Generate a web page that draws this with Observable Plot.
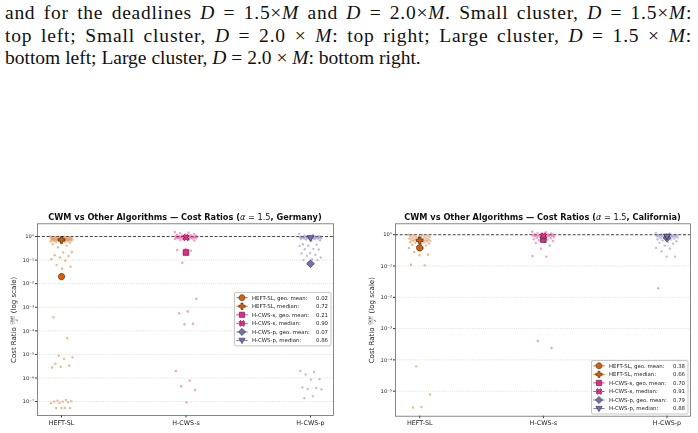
<!DOCTYPE html>
<html>
<head>
<meta charset="utf-8">
<script src="https://cdn.jsdelivr.net/npm/d3@7"></script>
<script src="https://cdn.jsdelivr.net/npm/@observablehq/plot@0.6"></script>
<style>
  body { margin: 0; background: #fff; width: 698px; height: 433px; overflow: hidden; position: relative; }
  #caption { position: absolute; left: 5px; top: 2px; width: 687px; font-family: "Liberation Serif", serif;
             font-size: 19.5px; line-height: 22.5px; color: #111; }
  #caption div { white-space: nowrap; }
  #caption div.j { text-align: justify; text-align-last: justify; }
  #left { position: absolute; left: 0; top: 205px; filter: blur(0.3px); }
  #right { position: absolute; left: 350px; top: 205px; filter: blur(0.3px); }
</style>
</head>
<body>
<div id="caption">
  <div class="j">and for the deadlines <i>D</i> = 1.5×<i>M</i> and <i>D</i> = 2.0×<i>M</i>. Small cluster, <i>D</i> = 1.5×<i>M</i>:</div>
  <div class="j">top left; Small cluster, <i>D</i> = 2.0 × <i>M</i>: top right; Large cluster, <i>D</i> = 1.5 × <i>M</i>:</div>
  <div>bottom left; Large cluster, <i>D</i> = 2.0 × <i>M</i>: bottom right.</div>
</div>
<div id="left"></div>
<div id="right"></div>
<script>
// Algorithms compared against CWM (x categories)
const algorithms = ["HEFT-SL", "H-CWS-s", "H-CWS-p"];
const colors = ["#d95f02", "#e7298a", "#7570b3"];
const decades = [1, 1e-1, 1e-2, 1e-3, 1e-4, 1e-5, 1e-6, 1e-7];

// Per-instance cost ratios CWM / X, Germany
const heftGermany = [1.0, 0.98, 0.96, 0.95, 0.93, 0.92, 0.9, 0.89, 0.88, 0.87, 0.86, 0.85, 0.84, 0.83, 0.82, 0.81,
  0.8, 0.79, 0.78, 0.77, 0.76, 0.75, 0.74, 0.73, 0.72, 0.72, 0.71, 0.7, 0.69, 0.68, 0.67, 0.66, 0.65, 0.64, 0.62,
  0.6, 0.58, 0.55, 0.52, 0.48, 0.41, 0.35,
  0.22, 0.21, 0.16, 0.15, 0.13, 0.11, 0.095, 0.063, 0.053, 0.043,
  3.8e-4, 4.9e-5, 8.9e-6, 7.5e-6, 6.5e-6, 4.0e-6, 3.4e-6, 3.0e-6, 2.8e-6,
  1.18e-7, 1.1e-7, 1.05e-7, 1.0e-7, 1.0e-7, 9.5e-8, 8.7e-8, 8.5e-8, 5.4e-8, 5.4e-8, 5.4e-8, 5.4e-8];
const cwssGermany = [1.55, 1.45, 1.4, 1.3, 1.25, 1.2, 1.15, 1.12, 1.1, 1.08, 1.05, 1.03, 1.02, 1.0, 1.0, 0.99,
  0.98, 0.97, 0.96, 0.95, 0.94, 0.93, 0.92, 0.91, 0.9, 0.9, 0.89, 0.88, 0.87, 0.86, 0.85, 0.84, 0.82, 0.8, 0.78,
  0.75, 0.72, 0.68,
  0.3, 0.27, 0.25, 0.077,
  2.3e-3, 6.6e-4, 5.6e-4, 2.0e-4, 1.9e-4, 2.0e-6, 7.8e-7, 4.5e-7, 3.1e-7, 9.3e-8];
const cwspGermany = [1.3, 1.2, 1.1, 1.05, 1.02, 1.0, 1.0, 0.99, 0.98, 0.97, 0.96, 0.95, 0.94, 0.93, 0.92, 0.91,
  0.9, 0.89, 0.88, 0.87, 0.86, 0.85, 0.84, 0.83, 0.82, 0.8, 0.78, 0.76, 0.74, 0.7, 0.65,
  0.47, 0.45, 0.41, 0.4, 0.3, 0.29, 0.28, 0.2, 0.19, 0.17, 0.15, 0.13, 0.11, 0.1, 0.1, 0.08,
  2.0e-6, 1.8e-6, 1.4e-6, 9.0e-7, 8.5e-7, 4.0e-7, 3.8e-7, 3.4e-7, 3.3e-7, 1.7e-7, 1.4e-7];

// Per-instance cost ratios CWM / X, California
const heftCalifornia = [1.0, 0.98, 0.95, 0.93, 0.9, 0.88, 0.86, 0.85, 0.83, 0.82, 0.8, 0.78, 0.77, 0.75, 0.73,
  0.72, 0.7, 0.69, 0.68, 0.67, 0.66, 0.65, 0.64, 0.63, 0.62, 0.6, 0.58, 0.57, 0.55, 0.53, 0.5, 0.48, 0.45, 0.42,
  0.38, 0.37, 0.28, 0.23, 0.22, 0.11, 0.105,
  6.2e-5, 7.9e-6, 3.1e-6, 3.0e-6];
const cwssCalifornia = [1.25, 1.2, 1.15, 1.1, 1.08, 1.05, 1.02, 1.0, 1.0, 0.99, 0.97, 0.96, 0.95, 0.94, 0.93,
  0.92, 0.91, 0.9, 0.89, 0.88, 0.87, 0.85, 0.83, 0.8, 0.78, 0.75, 0.72, 0.7, 0.67, 0.63, 0.58, 0.55,
  0.45, 0.36, 0.21, 0.2,
  4.0e-4, 2.4e-4];
const cwspCalifornia = [1.15, 1.1, 1.05, 1.02, 1.0, 1.0, 0.99, 0.98, 0.96, 0.95, 0.94, 0.93, 0.92, 0.91, 0.9,
  0.89, 0.88, 0.87, 0.86, 0.85, 0.84, 0.82, 0.8, 0.78, 0.76, 0.74, 0.72, 0.7, 0.66, 0.62, 0.58, 0.55, 0.52,
  0.45, 0.38, 0.36, 0.29, 0.2, 0.2,
  0.0196];

// Summary statistics shown as large markers and in the legend
const geoMeanGermany = [0.02, 0.21, 0.07];
const medianGermany = [0.72, 0.90, 0.86];
const geoMeanCalifornia = [0.38, 0.70, 0.79];
const medianCalifornia = [0.66, 0.91, 0.88];

// Spread the slack of justified caption lines over letters as well as spaces
document.querySelectorAll("#caption div.j").forEach(div => {
  div.style.textAlign = "left";
  div.style.textAlignLast = "left";
  const range = document.createRange();
  range.selectNodeContents(div);
  const natural = range.getBoundingClientRect().width;
  const chars = div.textContent.trim().length;
  div.style.letterSpacing = ((687 - natural) * 0.55 / chars).toFixed(3) + "px";
  div.style.textAlign = "";
  div.style.textAlignLast = "";
});

// Marker shapes (unit outlines scaled by the dot radius)
function outline(pts) {
  return {
    draw(ctx, size) {
      const r = Math.sqrt(size / Math.PI);
      ctx.moveTo(pts[0][0] * r, pts[0][1] * r);
      for (let i = 1; i < pts.length; ++i) ctx.lineTo(pts[i][0] * r, pts[i][1] * r);
      ctx.closePath();
    }
  };
}
const a = 1.05, b = 0.36;
const plusPts = [[-b,-a],[b,-a],[b,-b],[a,-b],[a,b],[b,b],[b,a],[-b,a],[-b,b],[-a,b],[-a,-b],[-b,-b]];
const rot = (p, t) => [p[0]*Math.cos(t) - p[1]*Math.sin(t), p[0]*Math.sin(t) + p[1]*Math.cos(t)];
const symbols = {
  circle: outline(d3.range(40).map(i => [Math.cos(i / 40 * 2 * Math.PI), Math.sin(i / 40 * 2 * Math.PI)])),
  plus: outline(plusPts),
  square: outline([[-0.88,-0.88],[0.88,-0.88],[0.88,0.88],[-0.88,0.88]]),
  times: outline(plusPts.map(p => rot(p, Math.PI / 4))),
  diamond: outline([[0,-1.2],[1.2,0],[0,1.2],[-1.2,0]]),
  triDown: outline([[-1.05,-0.75],[1.05,-0.75],[0,1.05]])
};
const geoSymbols = [symbols.circle, symbols.square, symbols.diamond];
const medSymbols = [symbols.plus, symbols.times, symbols.triDown];

const supMap = {"0":"⁰","1":"¹","2":"²","3":"³","4":"⁴","5":"⁵","6":"⁶","7":"⁷","8":"⁸","9":"⁹","-":"⁻"};
const powerLabel = d => "10" + String(Math.round(Math.log10(d))).replace(/./g, c => supMap[c]);

// Deterministic horizontal spread of points around each category
const spread = i => (((i * 0.6180339887) % 1) - 0.5) * 0.18;

function drawChart(el, cfg) {
  const {width, height, ml, mr, mt, mb, xDomain, yDomain, series, geo, med, region, legendPos} = cfg;
  const ticks = decades.filter(d => d >= yDomain[0] && d <= yDomain[1]);
  const pointMarks = series.map((vals, k) =>
    Plot.dot(vals.map((v, i) => ({x: k + spread(i), v})),
      {x: "x", y: "v", r: 1.2, fill: colors[k], fillOpacity: 0.45, stroke: "none"}));
  const statMarks = [];
  algorithms.forEach((name, k) => {
    statMarks.push(Plot.dot([{x: k, v: geo[k]}], {x: "x", y: "v", symbol: geoSymbols[k], r: 3.2,
      fill: colors[k], stroke: "#1a1a1a", strokeWidth: 0.6}));
    statMarks.push(Plot.dot([{x: k, v: med[k]}], {x: "x", y: "v", symbol: medSymbols[k], r: 3.2,
      fill: colors[k], stroke: "#1a1a1a", strokeWidth: 0.6}));
  });
  const svg = Plot.plot({
    width, height, marginLeft: ml, marginRight: mr, marginTop: mt, marginBottom: mb,
    style: {fontFamily: "DejaVu Sans, sans-serif", fontSize: "5px", color: "#222", background: "transparent", overflow: "visible"},
    x: {domain: xDomain, axis: null},
    y: {type: "log", domain: yDomain, axis: null},
    marks: [
      Plot.ruleY(ticks.filter(d => d !== 1), {stroke: "#bdbdbd", strokeWidth: 0.5, strokeDasharray: "1,1.2"}),
      Plot.ruleY([1], {stroke: "#111", strokeWidth: 0.8, strokeDasharray: "3,1.8"}),
      ...pointMarks,
      ...statMarks,
      Plot.axisY(ticks, {tickSize: 2, tickPadding: 1.5, tickFormat: powerLabel, fontSize: 5.2, label: null, stroke: "#333"}),
      Plot.axisX([0, 1, 2], {tickSize: 2.5, tickPadding: 2, tickFormat: i => algorithms[i], fontSize: 6.4, label: null, stroke: "#333"}),
      Plot.frame({stroke: "#6a6a6a", strokeWidth: 0.8})
    ]
  });

  const s = d3.select(svg);
  const cx = ml + (width - ml - mr) / 2;
  const cy = mt + (height - mt - mb) / 2;

  // title
  const t = s.append("text").attr("x", cx).attr("y", 12).attr("text-anchor", "middle").attr("dy", "0.35em")
    .attr("font-family", "DejaVu Sans, sans-serif").attr("font-size", 8.2).attr("font-weight", "bold").attr("fill", "#111");
  t.append("tspan").text("CWM vs Other Algorithms — Cost Ratios (");
  t.append("tspan").attr("font-style", "italic").attr("font-weight", "normal").text("α");
  t.append("tspan").attr("font-weight", "normal").text(" = 1.5");
  t.append("tspan").text(", " + region + ")");

  // y label with the CWM / X fraction
  const yl = s.append("g").attr("transform", `translate(${ml - 23},${cy + 1}) rotate(-90)`)
    .attr("font-family", "DejaVu Sans, sans-serif").attr("fill", "#222");
  yl.append("text").attr("x", -7).attr("dy", "0.35em").attr("text-anchor", "end").attr("font-size", 7).text("Cost Ratio");
  yl.append("text").attr("x", 0).attr("y", -1).attr("text-anchor", "middle").attr("font-size", 3.4).text("CWM");
  yl.append("line").attr("x1", -4).attr("x2", 4).attr("y1", 0).attr("y2", 0).attr("stroke", "#222").attr("stroke-width", 0.35);
  yl.append("text").attr("x", 0).attr("y", 3.7).attr("text-anchor", "middle").attr("font-size", 3.4).attr("font-style", "italic").text("X");
  yl.append("text").attr("x", 7).attr("dy", "0.35em").attr("text-anchor", "start").attr("font-size", 7).text("(log scale)");

  // legend
  const lw = 96.5, lh = 53.5;
  const fx1 = width - mr, fy1 = height - mb;
  const lx = fx1 - 2 - lw;
  const ly = legendPos === "center right" ? cy - lh / 2 : fy1 - 1.7 - lh;
  const lg = s.append("g").attr("transform", `translate(${lx},${ly})`)
    .attr("font-family", "DejaVu Sans, sans-serif").attr("font-size", 5.4).attr("fill", "#222");
  lg.append("rect").attr("width", lw).attr("height", lh).attr("rx", 1.5)
    .attr("fill", "white").attr("fill-opacity", 0.9).attr("stroke", "#a0a0a0").attr("stroke-width", 0.6);
  const entries = [];
  algorithms.forEach((name, k) => {
    entries.push({label: name + ", geo. mean:", value: geo[k], sym: geoSymbols[k], color: colors[k]});
    entries.push({label: name + ", median:", value: med[k], sym: medSymbols[k], color: colors[k]});
  });
  entries.forEach((e, i) => {
    const y = 5.3 + i * 8.55;
    lg.append("line").attr("x1", 1.8).attr("x2", 13.2).attr("y1", y).attr("y2", y)
      .attr("stroke", e.color).attr("stroke-width", 0.9);
    lg.append("path").attr("d", d3.symbol(e.sym, Math.PI * 3 * 3)())
      .attr("transform", `translate(7.5,${y})`).attr("fill", e.color).attr("stroke", "#1a1a1a").attr("stroke-width", 0.5);
    lg.append("text").attr("x", 17.5).attr("y", y).attr("dy", "0.35em").attr("text-anchor", "start").text(e.label);
    lg.append("text").attr("x", lw - 3).attr("y", y).attr("dy", "0.35em").attr("text-anchor", "end").text(e.value.toFixed(2));
  });

  el.appendChild(svg);
}

drawChart(document.getElementById("left"), {
  width: 350, height: 228, ml: 37, mr: 17, mt: 18.3, mb: 18,
  xDomain: [-0.193, 2.185], yDomain: [Math.pow(10, -7.59), Math.pow(10, 0.54)],
  series: [heftGermany, cwssGermany, cwspGermany], geo: geoMeanGermany, med: medianGermany,
  region: "Germany", legendPos: "center right"
});
drawChart(document.getElementById("right"), {
  width: 348, height: 228, ml: 45, mr: 8, mt: 18.3, mb: 17.3,
  xDomain: [-0.196, 2.19], yDomain: [Math.pow(10, -5.8), Math.pow(10, 0.35)],
  series: [heftCalifornia, cwssCalifornia, cwspCalifornia], geo: geoMeanCalifornia, med: medianCalifornia,
  region: "California", legendPos: "lower right"
});
</script>
</body>
</html>
